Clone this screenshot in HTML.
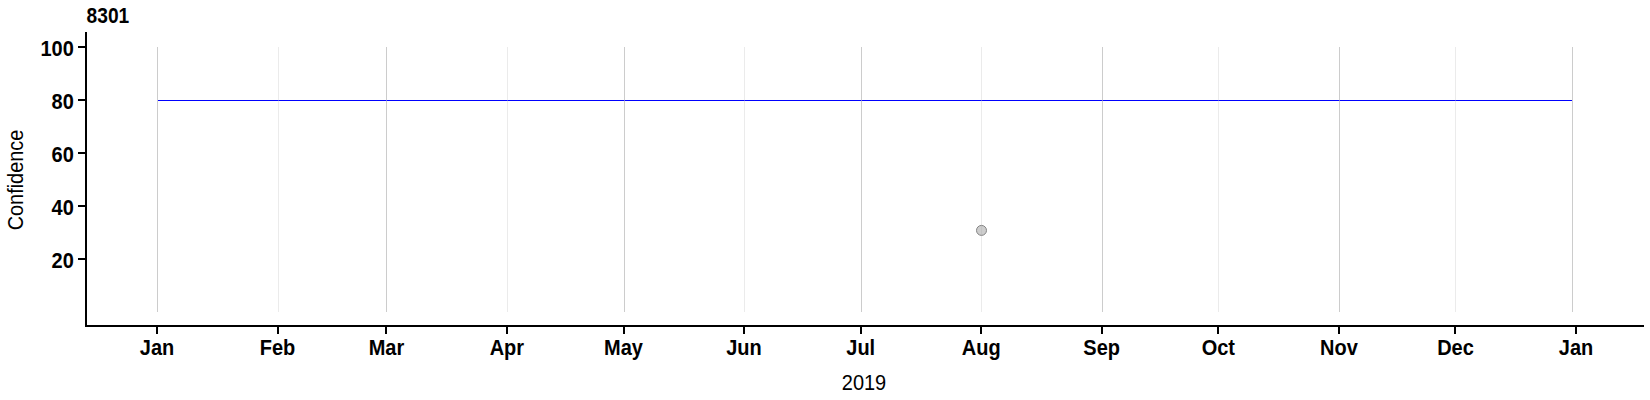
<!DOCTYPE html>
<html lang="en"><head><meta charset="utf-8"><title>8301</title>
<style>
html,body{margin:0;padding:0;background:#fff;}
body{width:1650px;height:400px;overflow:hidden;}
svg{display:block;}
text{font-family:"Liberation Sans",Arial,Helvetica,sans-serif;fill:#000;}
</style></head>
<body>
<svg width="1650" height="400" viewBox="0 0 1650 400">
<rect x="0" y="0" width="1650" height="400" fill="#ffffff"/>
<g shape-rendering="crispEdges">
<rect x="158" y="100" width="1415" height="1" fill="#0000ff"/>
<rect x="157" y="47" width="1" height="265" fill="#cccccc"/>
<rect x="278" y="47" width="1" height="265" fill="#ebebeb"/>
<rect x="278" y="100" width="1" height="1" fill="#4646eb"/>
<rect x="386" y="47" width="1" height="265" fill="#cccccc"/>
<rect x="386" y="100" width="1" height="1" fill="#6e6ed7"/>
<rect x="507" y="47" width="1" height="265" fill="#ebebeb"/>
<rect x="507" y="100" width="1" height="1" fill="#4646eb"/>
<rect x="624" y="47" width="1" height="265" fill="#cccccc"/>
<rect x="624" y="100" width="1" height="1" fill="#6e6ed7"/>
<rect x="744" y="47" width="1" height="265" fill="#ebebeb"/>
<rect x="744" y="100" width="1" height="1" fill="#4646eb"/>
<rect x="861" y="47" width="1" height="265" fill="#cccccc"/>
<rect x="861" y="100" width="1" height="1" fill="#6e6ed7"/>
<rect x="981" y="47" width="1" height="265" fill="#ebebeb"/>
<rect x="981" y="100" width="1" height="1" fill="#4646eb"/>
<rect x="1102" y="47" width="1" height="265" fill="#cccccc"/>
<rect x="1102" y="100" width="1" height="1" fill="#6e6ed7"/>
<rect x="1218" y="47" width="1" height="265" fill="#ebebeb"/>
<rect x="1218" y="100" width="1" height="1" fill="#4646eb"/>
<rect x="1339" y="47" width="1" height="265" fill="#cccccc"/>
<rect x="1339" y="100" width="1" height="1" fill="#6e6ed7"/>
<rect x="1455" y="47" width="1" height="265" fill="#ebebeb"/>
<rect x="1455" y="100" width="1" height="1" fill="#4646eb"/>
<rect x="1572" y="47" width="1" height="265" fill="#cccccc"/>
<rect x="85" y="32" width="2" height="295" fill="#000"/>
<rect x="85" y="325" width="1559" height="2" fill="#000"/>
<rect x="78" y="258" width="7" height="2" fill="#000"/>
<rect x="78" y="205" width="7" height="2" fill="#000"/>
<rect x="78" y="152" width="7" height="2" fill="#000"/>
<rect x="78" y="99" width="7" height="2" fill="#000"/>
<rect x="78" y="46" width="7" height="2" fill="#000"/>
<rect x="156" y="327" width="2" height="7" fill="#000"/>
<rect x="277" y="327" width="2" height="7" fill="#000"/>
<rect x="385" y="327" width="2" height="7" fill="#000"/>
<rect x="506" y="327" width="2" height="7" fill="#000"/>
<rect x="623" y="327" width="2" height="7" fill="#000"/>
<rect x="743" y="327" width="2" height="7" fill="#000"/>
<rect x="860" y="327" width="2" height="7" fill="#000"/>
<rect x="980" y="327" width="2" height="7" fill="#000"/>
<rect x="1101" y="327" width="2" height="7" fill="#000"/>
<rect x="1217" y="327" width="2" height="7" fill="#000"/>
<rect x="1338" y="327" width="2" height="7" fill="#000"/>
<rect x="1454" y="327" width="2" height="7" fill="#000"/>
<rect x="1575" y="327" width="2" height="7" fill="#000"/>
</g>
<circle cx="981.5" cy="230.4" r="5" fill="#9b9b9b" fill-opacity="0.5" stroke="#858585" stroke-width="1"/>
<g>
<text transform="translate(86.6,23) scale(1,1.11)" font-size="19.2" font-weight="bold">8301</text>
<text transform="translate(73.8,268) scale(1,1.09)" font-size="20" font-weight="bold" text-anchor="end">20</text>
<text transform="translate(73.8,215) scale(1,1.09)" font-size="20" font-weight="bold" text-anchor="end">40</text>
<text transform="translate(73.8,162) scale(1,1.09)" font-size="20" font-weight="bold" text-anchor="end">60</text>
<text transform="translate(73.8,109) scale(1,1.09)" font-size="20" font-weight="bold" text-anchor="end">80</text>
<text transform="translate(73.8,56) scale(1,1.09)" font-size="20" font-weight="bold" text-anchor="end">100</text>
<text transform="translate(157.0,354.6) scale(1,1.075)" font-size="20" font-weight="bold" text-anchor="middle">Jan</text>
<text transform="translate(277.5,354.6) scale(1,1.075)" font-size="20" font-weight="bold" text-anchor="middle">Feb</text>
<text transform="translate(386.4,354.6) scale(1,1.075)" font-size="20" font-weight="bold" text-anchor="middle">Mar</text>
<text transform="translate(506.9,354.6) scale(1,1.075)" font-size="20" font-weight="bold" text-anchor="middle">Apr</text>
<text transform="translate(623.5,354.6) scale(1,1.075)" font-size="20" font-weight="bold" text-anchor="middle">May</text>
<text transform="translate(744.0,354.6) scale(1,1.075)" font-size="20" font-weight="bold" text-anchor="middle">Jun</text>
<text transform="translate(860.7,354.6) scale(1,1.075)" font-size="20" font-weight="bold" text-anchor="middle">Jul</text>
<text transform="translate(981.2,354.6) scale(1,1.075)" font-size="20" font-weight="bold" text-anchor="middle">Aug</text>
<text transform="translate(1101.7,354.6) scale(1,1.075)" font-size="20" font-weight="bold" text-anchor="middle">Sep</text>
<text transform="translate(1218.3,354.6) scale(1,1.075)" font-size="20" font-weight="bold" text-anchor="middle">Oct</text>
<text transform="translate(1338.9,354.6) scale(1,1.075)" font-size="20" font-weight="bold" text-anchor="middle">Nov</text>
<text transform="translate(1455.5,354.6) scale(1,1.075)" font-size="20" font-weight="bold" text-anchor="middle">Dec</text>
<text transform="translate(1576.0,354.6) scale(1,1.075)" font-size="20" font-weight="bold" text-anchor="middle">Jan</text>
<text transform="translate(864,390) scale(1,1.09)" font-size="20" text-anchor="middle">2019</text>
<text transform="translate(23,180) rotate(-90) scale(1,1.09)" font-size="19.9" text-anchor="middle">Confidence</text>
</g>
</svg>
</body></html>
